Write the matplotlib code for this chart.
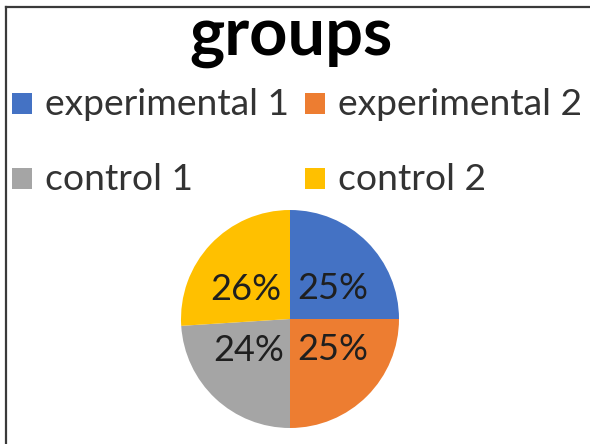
import matplotlib
matplotlib.use("Agg")
import matplotlib.pyplot as plt
from matplotlib.patches import Rectangle
from matplotlib.lines import Line2D

# chart data
groups = ["experimental 1", "experimental 2", "control 1", "control 2"]
shares = [25, 25, 24, 26]
colors = ["#4472C4", "#ED7D31", "#A5A5A5", "#FFC000"]

W, H = 590, 444
fig = plt.figure(figsize=(W / 100, H / 100), dpi=100)
fig.patch.set_facecolor("white")

# frame lines (left and top only visible)
fig.add_artist(Line2D([5.5 / W, 5.5 / W], [0, 437 / H], color="#3a3a3a", lw=1.6))
fig.add_artist(Line2D([5.5 / W, 1], [437 / H, 437 / H], color="#3a3a3a", lw=1.6))

# title
fig.text(291 / W, (H - 55) / H, "groups", ha="center", va="baseline",
         fontfamily="Lato", fontweight="bold", fontsize=48, color="black")

# legend, two columns
leg_x = [12, 305]
leg_base = [115, 190]
for i, (name, c) in enumerate(zip(groups, colors)):
    col = i % 2
    row = i // 2
    x0 = leg_x[col]
    yb = H - leg_base[row]
    fig.add_artist(Rectangle((x0 / W, (yb + 1) / H), 20 / W, 21 / H,
                             facecolor=c, edgecolor="none", transform=fig.transFigure))
    fig.text((x0 + 33) / W, yb / H, name, ha="left", va="baseline",
             fontfamily="Lato", fontsize=26.8, color="#333333")

# pie
cx, cy, r = 290, 319, 109
ax = fig.add_axes([(cx - r) / W, (H - cy - r) / H, 2 * r / W, 2 * r / H])
wedges, texts, autotexts = ax.pie(shares, colors=colors, startangle=90, counterclock=False,
                                  autopct="%1.0f%%", pctdistance=0.5, radius=1,
                                  wedgeprops=dict(linewidth=0))
for t in autotexts:
    x, y = t.get_position()
    t.set_position((x * 1.1, y * 0.8))
    t.set_fontfamily("Lato")
    t.set_fontsize(26)
    t.set_color("#1f1f1f")
ax.set_xlim(-1, 1)
ax.set_ylim(-1, 1)
ax.set_aspect("equal")
ax.axis("off")

fig.savefig("out.png", dpi=100, facecolor="white")
